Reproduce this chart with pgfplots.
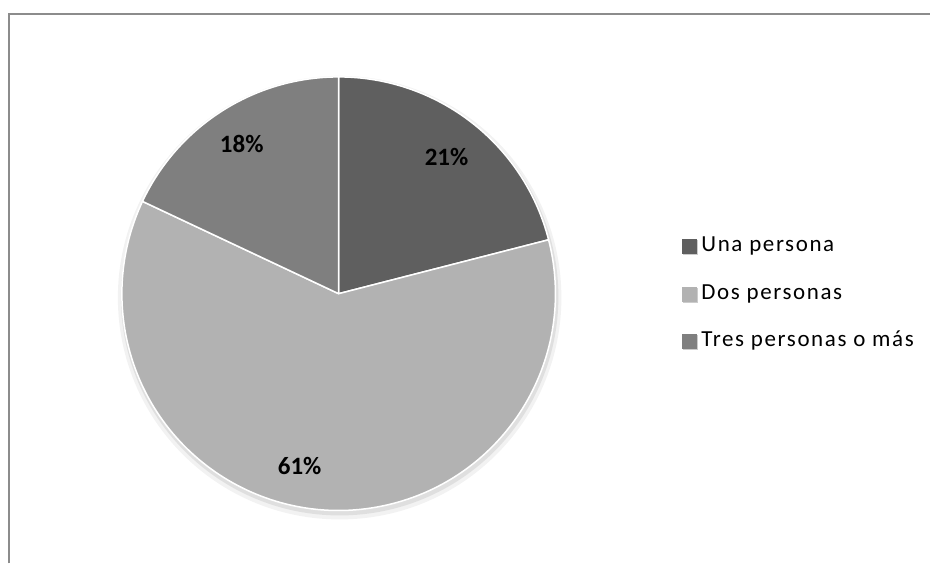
\documentclass[border=0pt]{standalone}
\usepackage{pgfplots}
\pgfplotsset{compat=1.18}
\usepackage{pgfplotstable}
\usepackage{fontspec}
\setmainfont{Carlito}
\newfontfamily\legfont[LetterSpace=7]{Carlito}
\definecolor{cUna}{HTML}{5F5F5F}
\definecolor{cDos}{HTML}{B2B2B2}
\definecolor{cTres}{HTML}{7F7F7F}
\definecolor{frameGray}{HTML}{8C8C8C}

\pgfplotstableread[col sep=comma]{
label,value
Una persona,21
Dos personas,61
Tres personas o más,18
}\piedata
\pgfplotstablegetelem{0}{value}\of\piedata\edef\vA{\pgfplotsretval}%
\pgfplotstablegetelem{1}{value}\of\piedata\edef\vB{\pgfplotsretval}%
\pgfplotstablegetelem{2}{value}\of\piedata\edef\vC{\pgfplotsretval}%
\pgfmathsetmacro\aA{90}%
\pgfmathsetmacro\aB{\aA-3.6*\vA}%
\pgfmathsetmacro\aC{\aB-3.6*\vB}%
\pgfmathsetmacro\aD{\aC-3.6*\vC}%
\def\cx{339}\def\cy{270}\def\R{217}%

\begin{document}%
\begin{tikzpicture}
\begin{axis}[
  width=931pt, height=564pt, scale only axis,
  xmin=0, xmax=931, ymin=0, ymax=564,
  hide axis, clip=false,
]
\path (axis cs:0,0) rectangle (axis cs:931,564);
% frame
\draw[frameGray, line width=2pt] (axis cs:9,0) -- (axis cs:9,550) -- (axis cs:931,550);
% shadow
\fill[black, opacity=0.05] (axis cs:340,266) circle[radius=222pt];
\fill[black, opacity=0.08] (axis cs:340,267) circle[radius=219pt];
% wedges
\filldraw[fill=cUna, draw=white, line width=1.5pt, line join=round]
  (axis cs:\cx,\cy) -- (axis cs:{\cx+\R*cos(\aA)},{\cy+\R*sin(\aA)})
  arc[start angle=\aA, end angle=\aB, radius=217pt] -- cycle;
\filldraw[fill=cDos, draw=white, line width=1.5pt, line join=round]
  (axis cs:\cx,\cy) -- (axis cs:{\cx+\R*cos(\aB)},{\cy+\R*sin(\aB)})
  arc[start angle=\aB, end angle=\aC, radius=217pt] -- cycle;
\filldraw[fill=cTres, draw=white, line width=1.5pt, line join=round]
  (axis cs:\cx,\cy) -- (axis cs:{\cx+\R*cos(\aC)},{\cy+\R*sin(\aC)})
  arc[start angle=\aC, end angle=\aD, radius=217pt] -- cycle;
% data labels
\node[font=\bfseries\fontsize{25pt}{30pt}\selectfont] at (axis cs:447,407) {21\%};
\node[font=\bfseries\fontsize{25pt}{30pt}\selectfont] at (axis cs:300,98) {61\%};
\node[font=\bfseries\fontsize{25pt}{30pt}\selectfont] at (axis cs:242,420) {18\%};
% legend
\fill[black!20] (axis cs:684,309) rectangle (axis cs:699,324);
\fill[cUna] (axis cs:683,310) rectangle (axis cs:698,325);
\node[anchor=west, font=\legfont\fontsize{23pt}{28pt}\selectfont, inner sep=0pt] at (axis cs:702,318) {Una persona};
\fill[black!20] (axis cs:684,261) rectangle (axis cs:699,276);
\fill[cDos] (axis cs:683,262) rectangle (axis cs:698,277);
\node[anchor=west, font=\legfont\fontsize{23pt}{28pt}\selectfont, inner sep=0pt] at (axis cs:702,270) {Dos personas};
\fill[black!20] (axis cs:684,214) rectangle (axis cs:699,229);
\fill[cTres] (axis cs:683,215) rectangle (axis cs:698,230);
\node[anchor=west, font=\legfont\fontsize{23pt}{28pt}\selectfont, inner sep=0pt] at (axis cs:702,223) {Tres personas o más};
\end{axis}
\end{tikzpicture}%
\end{document}
